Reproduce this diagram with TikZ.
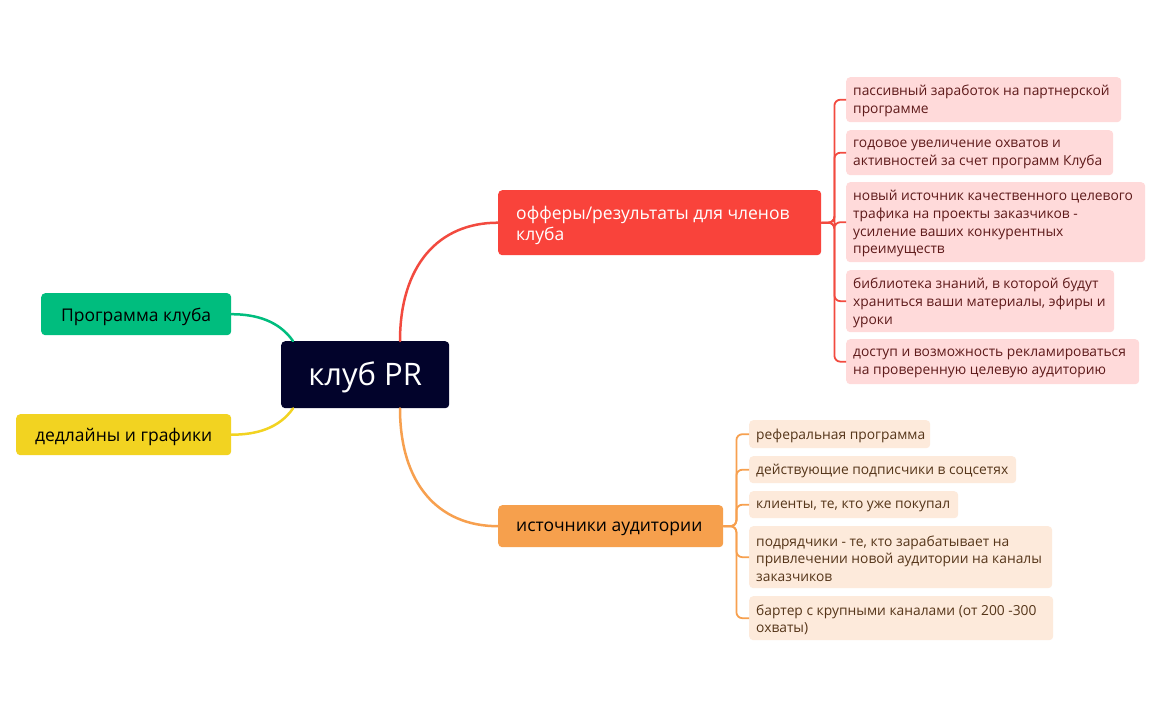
\documentclass[tikz,border=0pt]{standalone}
\usepackage{fontspec}
\setmainfont{Open Sans}
\usetikzlibrary{calc}
\definecolor{navy}{HTML}{02032B}
\definecolor{cgreen}{HTML}{00BD7E}
\definecolor{cyellow}{HTML}{F2D321}
\definecolor{cred}{HTML}{F9433B}
\definecolor{corange}{HTML}{F6A04D}
\definecolor{lpink}{HTML}{FFDADA}
\definecolor{lpeach}{HTML}{FDEADB}
\definecolor{tred}{HTML}{5E1A1A}
\definecolor{tbrown}{HTML}{553519}
\definecolor{lred}{HTML}{F24A3F}
\definecolor{lorange}{HTML}{F7A04F}
\tikzset{
  box/.style={rounded corners=4pt, inner sep=0pt, anchor=north west},
  txt/.style={anchor=west, inner sep=0pt, align=left, yshift=-1.5pt},
  leafr/.style={box, fill=lpink},
  leafo/.style={box, fill=lpeach},
  ltr/.style={txt, text=tred, font=\fontsize{13.8}{17.7}\selectfont},
  lto/.style={txt, text=tbrown, font=\fontsize{13.8}{17.7}\selectfont},
  mtxt/.style={txt, font=\fontsize{17.5}{21}\selectfont, yshift=-0.8pt},
  conn/.style={line width=2.5pt, line cap=round},
  lconn/.style={line width=1.8pt, rounded corners=6pt},
}
\begin{document}
\begin{tikzpicture}[x=1pt,y=-1pt]
\useasboundingbox[fill=white] (0,0) rectangle (1161,719);
% central
\node[box, fill=navy, minimum width=168, minimum height=67] (c) at (281,341) {};
\node[txt, anchor=center, text=white, font=\fontsize{31}{34}\selectfont, yshift=-1.5pt] (ct) at (c.center) {клуб PR};
% left
\node[box, fill=cgreen, minimum width=190, minimum height=42] (prog) at (41,293) {};
\node[mtxt, anchor=center] (progt) at (prog.center) {Программа клуба};
\node[box, fill=cyellow, minimum width=215, minimum height=41] (dead) at (16,414) {};
\node[mtxt, anchor=center] (deadt) at (dead.center) {дедлайны и графики};
% right main
\node[box, fill=cred, minimum width=323, minimum height=65] (off) at (498,190) {};
\node[mtxt, text=white] (offt) at ([xshift=18]off.west) {офферы/результаты для членов\\клуба};
\node[box, fill=corange, minimum width=225, minimum height=42] (src) at (498,505) {};
\node[mtxt, text=black] (srct) at ([xshift=18]src.west) {источники аудитории};
% red leaves
\node[leafr, minimum width=275, minimum height=45] (r1) at (846,77) {};
\node[ltr] (r1t) at ([xshift=7]r1.west) {пассивный заработок на партнерской\\программе};
\node[leafr, minimum width=267, minimum height=45] (r2) at (846,130) {};
\node[ltr] (r2t) at ([xshift=7]r2.west) {годовое увеличение охватов и\\активностей за счет программ Клуба};
\node[leafr, minimum width=299, minimum height=80] (r3) at (846,182) {};
\node[ltr] (r3t) at ([xshift=7]r3.west) {новый источник качественного целевого\\трафика на проекты заказчиков -\\усиление ваших конкурентных\\преимуществ};
\node[leafr, minimum width=268, minimum height=62] (r4) at (846,270) {};
\node[ltr] (r4t) at ([xshift=7]r4.west) {библиотека знаний, в которой будут\\храниться ваши материалы, эфиры и\\уроки};
\node[leafr, minimum width=293, minimum height=45] (r5) at (846,339) {};
\node[ltr] (r5t) at ([xshift=7]r5.west) {доступ и возможность рекламироваться\\на проверенную целевую аудиторию};
% orange leaves
\node[leafo, minimum width=181, minimum height=28] (o1) at (749,420) {};
\node[lto] (o1t) at ([xshift=7]o1.west) {реферальная программа};
\node[leafo, minimum width=267, minimum height=27] (o2) at (749,456) {};
\node[lto] (o2t) at ([xshift=7]o2.west) {действующие подписчики в соцсетях};
\node[leafo, minimum width=209, minimum height=27] (o3) at (749,491) {};
\node[lto] (o3t) at ([xshift=7]o3.west) {клиенты, те, кто уже покупал};
\node[leafo, minimum width=303, minimum height=62] (o4) at (749,526) {};
\node[lto] (o4t) at ([xshift=7]o4.west) {подрядчики - те, кто зарабатывает на\\привлечении новой аудитории на каналы\\заказчиков};
\node[leafo, minimum width=304, minimum height=44] (o5) at (749,596) {};
\node[lto] (o5t) at ([xshift=7]o5.west) {бартер с крупными каналами (от 200 -300\\охваты)};
% connectors from centre
\draw[conn, lred] ([xshift=119]c.north west) .. controls +(0,-75) and +(-60,0) .. (off.west);
\draw[conn, lorange] ([xshift=119]c.south west) .. controls +(0,75) and +(-60,0) .. (src.west);
\draw[conn, cgreen] ([xshift=12]c.north west) .. controls +(-14,-20) and +(25,0) .. (prog.east);
\draw[conn, cyellow] ([xshift=12]c.south west) .. controls +(-14,20) and +(25,0) .. (dead.east);
% leaf brackets
\foreach \l in {r1,r2,r3,r4,r5}{
  \draw[lconn, lred] (off.east) -- ++(13,0) |- (\l.west);
}
\foreach \l in {o1,o2,o3,o4,o5}{
  \draw[lconn, lorange] (src.east) -- ++(13,0) |- (\l.west);
}
\end{tikzpicture}
\end{document}
